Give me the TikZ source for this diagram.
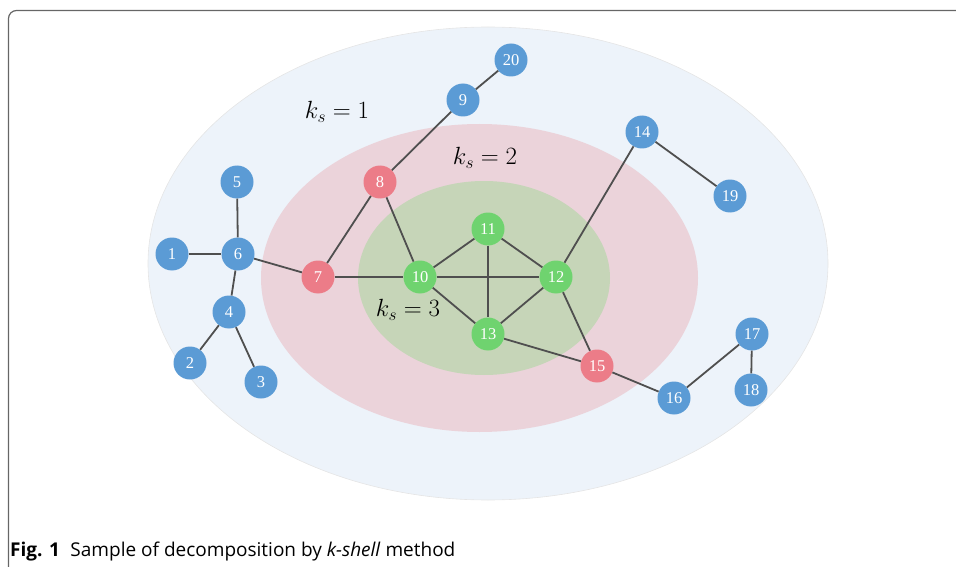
\documentclass[tikz,border=0pt]{standalone}
\usepackage{fontspec}
\setmainfont{Liberation Serif}
\newfontfamily\capfont{Open Sans}
\begin{document}
\begin{tikzpicture}[x=1pt,y=-1pt,
  vtx/.style={circle,minimum size=33pt,inner sep=0pt,text=white,font=\fontsize{16.5}{18}\selectfont},
  bnode/.style={vtx,fill=nodeblue},
  rnode/.style={vtx,fill=nodered},
  gnode/.style={vtx,fill=nodegreen},
  edge/.style={draw=edgegray,line width=1.8pt},
  kslabel/.style={font=\fontsize{27}{30}\selectfont,inner sep=0pt}]
\definecolor{nodeblue}{HTML}{5B9BD5}
\definecolor{nodered}{HTML}{EC7C88}
\definecolor{nodegreen}{HTML}{6FD36F}
\definecolor{edgegray}{HTML}{4F4F4F}
\definecolor{shellone}{HTML}{EDF3FA}
\definecolor{shelltwo}{HTML}{EBD3DA}
\definecolor{shellthree}{HTML}{C6D5B8}
\useasboundingbox (0,0) rectangle (956,567);
% frame
\draw[draw=black!60,line width=1.2pt,rounded corners=8pt] (956,10.5) -- (8.5,10.5) -- (8.5,567);
% shells
\fill[shellone,draw=black!10,line width=0.6pt] (488,263.5) ellipse [x radius=340,y radius=236.5];
\fill[shelltwo] (479.5,278) ellipse [x radius=218.5,y radius=154];
\fill[shellthree] (484,278) ellipse [x radius=126,y radius=97];
% labels
\node[kslabel] (ks1) at (337,112) {$k_s=1$};
\node[kslabel] (ks2) at (485,158) {$k_s=2$};
\node[kslabel] (ks3) at (408,310) {$k_s=3$};
% nodes
\node[bnode] (n1) at (172,254) {1};
\node[bnode] (n2) at (190,363) {2};
\node[bnode] (n3) at (261,382) {3};
\node[bnode] (n4) at (229,312) {4};
\node[bnode] (n5) at (237,182) {5};
\node[bnode] (n6) at (238,254) {6};
\node[rnode] (n7) at (318,277) {7};
\node[rnode] (n8) at (380,182) {8};
\node[bnode] (n9) at (463,100) {9};
\node[bnode] (n20) at (511,60) {20};
\node[gnode] (n10) at (420,277) {10};
\node[gnode] (n11) at (488,229) {11};
\node[gnode] (n12) at (556,277) {12};
\node[gnode] (n13) at (488,334) {13};
\node[bnode] (n14) at (642,132) {14};
\node[bnode] (n19) at (730,196) {19};
\node[rnode] (n15) at (597,366) {15};
\node[bnode] (n16) at (674,398) {16};
\node[bnode] (n17) at (752,334) {17};
\node[bnode] (n18) at (751,390) {18};
% edges
\path[edge] (n1) -- (n6);
\path[edge] (n5) -- (n6);
\path[edge] (n6) -- (n4);
\path[edge] (n4) -- (n2);
\path[edge] (n4) -- (n3);
\path[edge] (n6) -- (n7);
\path[edge] (n7) -- (n8);
\path[edge] (n7) -- (n10);
\path[edge] (n8) -- (n9);
\path[edge] (n9) -- (n20);
\path[edge] (n8) -- (n10);
\path[edge] (n10) -- (n11);
\path[edge] (n10) -- (n12);
\path[edge] (n10) -- (n13);
\path[edge] (n11) -- (n12);
\path[edge] (n11) -- (n13);
\path[edge] (n12) -- (n13);
\path[edge] (n12) -- (n14);
\path[edge] (n14) -- (n19);
\path[edge] (n12) -- (n15);
\path[edge] (n13) -- (n15);
\path[edge] (n15) -- (n16);
\path[edge] (n16) -- (n17);
\path[edge] (n17) -- (n18);
% caption
\node[anchor=base west,inner sep=0pt,font=\capfont\fontsize{19}{22}\selectfont] (cap) at (10,556) {\textbf{Fig. 1}\hspace{0.55em}Sample of decomposition by \textit{k-shell} method};
\end{tikzpicture}
\end{document}
